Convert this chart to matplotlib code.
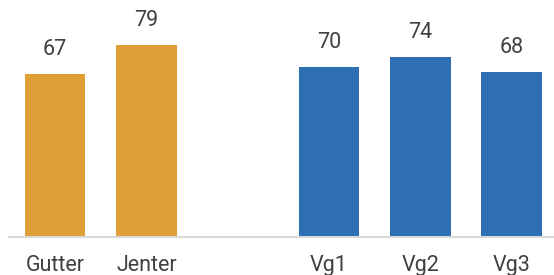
import numpy as np
import matplotlib.pyplot as plt

categories = ['Gutter', 'Jenter', '', 'Vg1', 'Vg2', 'Vg3']
values = [67, 79, np.nan, 70, 74, 68]
orange = '#E09E36'
blue = '#2E6FB4'
colors = [orange, orange, orange, blue, blue, blue]

plt.rcParams['font.family'] = ['Roboto', 'DejaVu Sans']

fig = plt.figure(figsize=(5.54, 2.75), dpi=100)
# axes run a bit past the right edge, like the cropped original
ax = fig.add_axes([9.35 / 554, 1 - 236.5 / 275, 548 / 554, 236.5 / 275])

x = np.arange(len(categories))
bars = ax.bar(x, values, width=0.667, color=colors)

for xi, v in zip(x, values):
    if np.isnan(v):
        continue
    ax.annotate(str(int(v)), (xi, v), xytext=(0, 10), textcoords='offset points',
                ha='center', va='bottom', fontsize=15.5, color='#404040')

ax.set_xlim(-0.5, len(categories) - 0.5)
ax.set_ylim(0, 97.56)
ax.set_xticks(x)
ax.set_xticklabels(categories, fontsize=15.5, color='#404040')
ax.tick_params(axis='x', length=0, pad=13.5)
ax.set_yticks([])
for side in ['top', 'right', 'left']:
    ax.spines[side].set_visible(False)
ax.spines['bottom'].set_color('#D9D9D9')
ax.spines['bottom'].set_linewidth(1.5)

plt.savefig('out.png', dpi=100)
